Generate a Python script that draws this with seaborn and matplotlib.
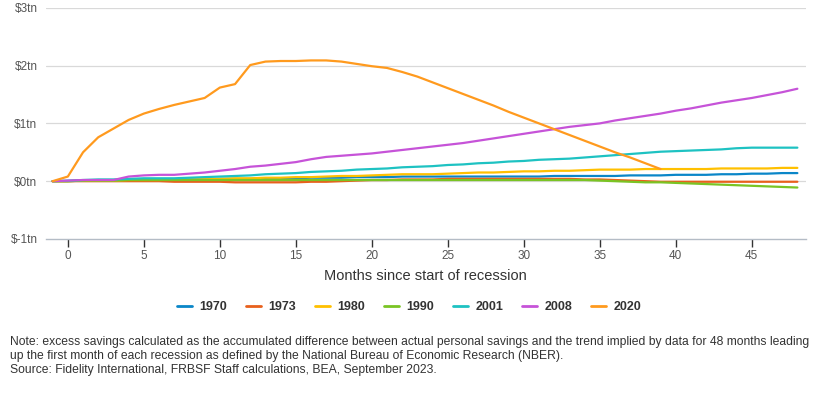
import numpy as np
import pandas as pd
import matplotlib
matplotlib.use("Agg")
import matplotlib.pyplot as plt
import seaborn as sns

months = list(range(-1, 49))

s1970 = [0.00, 0.00, 0.01, 0.01, 0.01, 0.02, 0.02, 0.02, 0.03, 0.03, 0.03,
         0.04, 0.04, 0.04, 0.05, 0.05, 0.05, 0.06, 0.06, 0.06, 0.07, 0.07,
         0.07, 0.08, 0.08, 0.08, 0.08, 0.08, 0.08, 0.08, 0.08, 0.08, 0.08,
         0.09, 0.09, 0.09, 0.09, 0.09, 0.10, 0.10, 0.10, 0.11, 0.11, 0.11,
         0.12, 0.12, 0.13, 0.13, 0.14, 0.14]
s1973 = [0.00, 0.00, 0.00, 0.00, 0.00, 0.00, 0.00, 0.00, -0.01, -0.01, -0.01,
         -0.01, -0.02, -0.02, -0.02, -0.02, -0.02, -0.01, -0.01, 0.00, 0.01, 0.02,
         0.02, 0.03, 0.03, 0.03, 0.04, 0.04, 0.04, 0.04, 0.04, 0.04, 0.04,
         0.04, 0.04, 0.03, 0.03, 0.02, 0.01, 0.00, -0.01, -0.01, -0.01, -0.01,
         -0.01, -0.01, -0.01, -0.01, -0.01, -0.01]
s1980 = [0.00, 0.00, 0.01, 0.01, 0.01, 0.02, 0.02, 0.02, 0.03, 0.03, 0.04,
         0.04, 0.05, 0.05, 0.06, 0.06, 0.07, 0.07, 0.08, 0.09, 0.09, 0.10,
         0.11, 0.12, 0.12, 0.12, 0.13, 0.14, 0.15, 0.15, 0.16, 0.17, 0.17,
         0.18, 0.18, 0.19, 0.20, 0.20, 0.20, 0.21, 0.21, 0.21, 0.21, 0.21,
         0.22, 0.22, 0.22, 0.22, 0.23, 0.23]
s1990 = [0.00, 0.00, 0.01, 0.01, 0.01, 0.02, 0.02, 0.02, 0.02, 0.02, 0.02,
         0.02, 0.02, 0.02, 0.02, 0.02, 0.02, 0.02, 0.02, 0.02, 0.02, 0.02,
         0.02, 0.02, 0.02, 0.02, 0.02, 0.02, 0.02, 0.02, 0.02, 0.02, 0.02,
         0.02, 0.02, 0.02, 0.01, 0.00, -0.01, -0.02, -0.02, -0.03, -0.04, -0.05,
         -0.06, -0.07, -0.08, -0.09, -0.10, -0.11]
s2001 = [0.00, 0.01, 0.02, 0.03, 0.03, 0.04, 0.05, 0.05, 0.05, 0.06, 0.07,
         0.08, 0.09, 0.10, 0.12, 0.13, 0.14, 0.16, 0.17, 0.18, 0.20, 0.21,
         0.22, 0.24, 0.25, 0.26, 0.28, 0.29, 0.31, 0.32, 0.34, 0.35, 0.37,
         0.38, 0.39, 0.41, 0.43, 0.45, 0.47, 0.49, 0.51, 0.52, 0.53, 0.54,
         0.55, 0.57, 0.58, 0.58, 0.58, 0.58]
s2008 = [0.00, 0.01, 0.02, 0.02, 0.02, 0.08, 0.10, 0.11, 0.11, 0.13, 0.15,
         0.18, 0.21, 0.25, 0.27, 0.30, 0.33, 0.38, 0.42, 0.44, 0.46, 0.48,
         0.51, 0.54, 0.57, 0.60, 0.63, 0.66, 0.70, 0.74, 0.78, 0.82, 0.86,
         0.90, 0.94, 0.97, 1.00, 1.05, 1.09, 1.13, 1.17, 1.22, 1.26, 1.31,
         1.36, 1.40, 1.44, 1.49, 1.54, 1.60]
s2020 = [0.00, 0.08, 0.50, 0.76, 0.91, 1.06, 1.17, 1.25, 1.32, 1.38, 1.44,
         1.62, 1.68, 2.01, 2.07, 2.08, 2.08, 2.09, 2.09, 2.07, 2.03, 1.99,
         1.96, 1.89, 1.81, 1.71, 1.61, 1.51, 1.41, 1.31, 1.20, 1.10, 1.00,
         0.90, 0.80, 0.70, 0.60, 0.50, 0.41, 0.31, 0.21]

series = {"1970": s1970, "1973": s1973, "1980": s1980, "1990": s1990,
          "2001": s2001, "2008": s2008, "2020": s2020}
colors = {"1970": "#0a86c8", "1973": "#e8601c", "1980": "#ffc000",
          "1990": "#7ac424", "2001": "#1ec2c2", "2008": "#c653d8",
          "2020": "#ff9a1e"}

rows = []
for name, vals in series.items():
    for m, v in zip(months, vals):
        rows.append({"month": m, "value": v, "recession": name})
df = pd.DataFrame(rows)

sns.set_style("white")
plt.rcParams["font.family"] = ["Liberation Sans", "DejaVu Sans"]

fig = plt.figure(figsize=(8.18, 3.93), dpi=100)
ax = fig.add_axes([0.056, 0.392, 0.929, 0.588])

sns.lineplot(data=df, x="month", y="value", hue="recession",
             palette=colors, hue_order=list(series.keys()),
             linewidth=1.6, ax=ax, legend=False)

ax.set_xlim(-1.45, 48.55)
ax.set_ylim(-1, 3)
ax.set_xticks([0, 5, 10, 15, 20, 25, 30, 35, 40, 45])
ax.set_yticks([-1, 0, 1, 2, 3])
ax.set_yticklabels([r"\$-1tn", r"\$0tn", r"\$1tn", r"\$2tn", r"\$3tn"])
for y in [0, 1, 2, 3]:
    ax.axhline(y, color="#d9d9d9", linewidth=0.9, zorder=0)

for s in ["top", "right", "left"]:
    ax.spines[s].set_visible(False)
ax.spines["bottom"].set_color("#b4bcc6")
ax.spines["bottom"].set_linewidth(1.0)
ax.tick_params(axis="x", bottom=True, direction="out", length=6, width=1,
               color="#333333", labelcolor="#555555", labelsize=8.5, pad=2)
ax.tick_params(axis="y", left=False, length=0, labelcolor="#555555",
               labelsize=8.5, pad=6)

ax.set_xlabel("Months since start of recession", fontsize=10.5,
              color="#333333", labelpad=5)
ax.set_ylabel("")

handles = [plt.Line2D([0], [0], color=colors[k], linewidth=2) for k in series]
leg = fig.legend(handles, list(series.keys()), loc="center",
                 bbox_to_anchor=(0.5, 0.219), ncol=7, frameon=False,
                 handlelength=1.25, handletextpad=0.6, columnspacing=1.45,
                 prop={"weight": "bold", "size": 9})
for t in leg.get_texts():
    t.set_color("#333333")

note = ("Note: excess savings calculated as the accumulated difference between actual personal savings "
        "and the trend implied by data for 48 months leading\n"
        "up the first month of each recession as defined by the National Bureau of Economic Research (NBER).\n"
        "Source: Fidelity International, FRBSF Staff calculations, BEA, September 2023.")
fig.text(10 / 818, 1 - 336 / 393, note, ha="left", va="top", fontsize=8.7,
         color="#333333", linespacing=1.25)

fig.savefig("out.png", dpi=100)
